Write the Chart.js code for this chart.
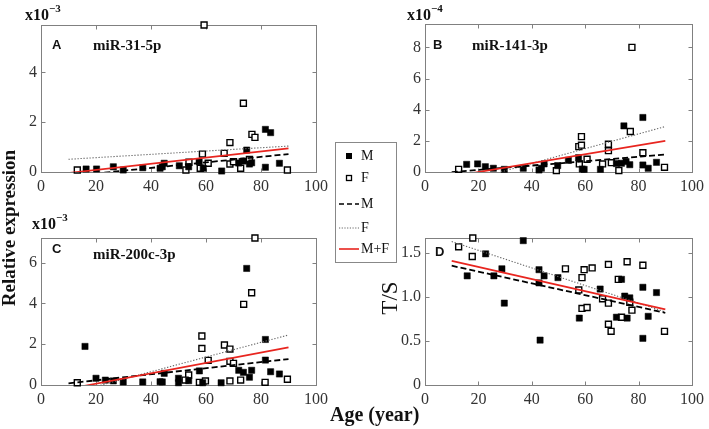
<!DOCTYPE html>
<html>
<head>
<meta charset="utf-8">
<script src="https://cdn.jsdelivr.net/npm/chart.js@4/dist/chart.umd.min.js"></script>
<style>
    html, body {
        margin: 0;
        padding: 0;
        background: #ffffff;
    }

    #wrap {
        position: relative;
        width: 709px;
        height: 429px;
        overflow: hidden;
        font-family: 'Liberation Serif', 'Times New Roman', serif;
        color: #111;
    }

    #wrap canvas {
        position: absolute;
        left: 0;
        top: 0;
    }

    .txt {
        position: absolute;
        white-space: nowrap;
        line-height: 1;
    }

    .exp {
        font-weight: bold;
        font-size: 16px;
    }

    .exp sup {
        font-size: 11px;
        position: relative;
        top: -2px;
    }

    .letter {
        font-family: 'Liberation Sans', Arial, sans-serif;
        font-weight: bold;
        font-size: 13px;
    }

    .title {
        font-weight: bold;
        font-size: 15px;
    }

    #legend {
        position: absolute;
        left: 335px;
        top: 142px;
        width: 60px;
        height: 119px;
        border: 1px solid #888;
        background: #fff;
    }

    #legend .lab {
        position: absolute;
        left: 25px;
        font-size: 14px;
        line-height: 14px;
    }
</style>
</head>
<body>

<div id="wrap">

    <canvas id="chartA" width="709" height="429"></canvas>
    <canvas id="chartB" width="709" height="429"></canvas>
    <canvas id="chartC" width="709" height="429"></canvas>
    <canvas id="chartD" width="709" height="429"></canvas>

    <!-- exponent labels -->
    <div class="txt exp" style="left:25px; top:5px;">x10<sup>−3</sup></div>
    <div class="txt exp" style="left:407px; top:5px;">x10<sup>−4</sup></div>
    <div class="txt exp" style="left:32px; top:214px;">x10<sup>−3</sup></div>

    <!-- panel letters and titles -->
    <div class="txt letter" style="left:52px; top:38px;">A</div>
    <div class="txt title" style="left:93px; top:38px;">miR-31-5p</div>

    <div class="txt letter" style="left:433px; top:38px;">B</div>
    <div class="txt title" style="left:472px; top:38px;">miR-141-3p</div>

    <div class="txt letter" style="left:52px; top:242px;">C</div>
    <div class="txt title" style="left:93px; top:247px;">miR-200c-3p</div>

    <div class="txt letter" style="left:435px; top:245px;">D</div>

    <!-- axis titles -->
    <div class="txt" style="left:-111px; top:218px; width:240px; text-align:center;
        font-weight:bold; font-size:19px; line-height:20px; transform:rotate(-90deg);">
        Relative expression</div>

    <div class="txt" style="left:360px; top:286px; width:60px; text-align:center;
        font-size:23px; line-height:24px; transform:rotate(-90deg);">T/S</div>

    <div class="txt" style="left:330px; top:404px; font-weight:bold; font-size:20px;
        line-height:20px;">Age (year)</div>

    <!-- shared legend -->
    <div id="legend">
        <svg width="60" height="119" style="position:absolute; left:0; top:0;">
            <rect x="10" y="10" width="6" height="6" fill="#000"/>
            <rect x="10.5" y="32.5" width="5" height="5" fill="#fff" stroke="#000" stroke-width="1.3"/>
            <line x1="3" y1="61" x2="23" y2="61" stroke="#000" stroke-width="1.6" stroke-dasharray="5,3"/>
            <line x1="3" y1="85" x2="23" y2="85" stroke="#666" stroke-width="1" stroke-dasharray="1.2,1.5"/>
            <line x1="3" y1="106" x2="23" y2="106" stroke="#e8251f" stroke-width="1.6"/>
        </svg>
        <div class="lab" style="top:6px;">M</div>
        <div class="lab" style="top:28px;">F</div>
        <div class="lab" style="top:54px;">M</div>
        <div class="lab" style="top:78px;">F</div>
        <div class="lab" style="top:99px;">M+F</div>
    </div>

</div>

<script>
// ==========================================
// DATA  (age in years, value)
// ==========================================

const xTicks = [0, 20, 40, 60, 80, 100];

// A: miR-31-5p  (x10^-3)
const mir31Male = [
    [16.4, 0.12], [20.2, 0.12], [26.3, 0.21], [29.9, 0.08], [37, 0.17],
    [43.3, 0.15], [44.1, 0.21], [44.8, 0.35], [50.3, 0.25], [53.7, 0.21],
    [57.5, 0.41], [59, 0.15], [65.7, 0.04], [71.9, 0.36], [73.6, 0.44],
    [74.8, 0.88], [75.8, 0.32], [76.6, 0.37], [81.6, 1.71], [83.5, 1.58],
    [81.6, 0.19], [86.7, 0.35]
];
const mir31Female = [
    [13.2, 0.08], [59.3, 5.9], [73.6, 2.76], [68.7, 1.18], [76.7, 1.51],
    [77.8, 1.39], [58.7, 0.72], [66.6, 0.75], [53.8, 0.39], [60.8, 0.35],
    [57.9, 0.15], [52.7, 0.08], [68.7, 0.32], [70, 0.41], [72.6, 0.15],
    [75.8, 0.5], [89.6, 0.08]
];
const mir31FitM = [[10, -0.17], [90, 0.72]];
const mir31FitF = [[10, 0.51], [90, 1.04]];
const mir31FitAll = [[10, -0.04], [90, 0.95]];
const mir31Ticks = [0, 2, 4];

// B: miR-141-3p  (x10^-4)
const mir141Male = [
    [15.6, 0.49], [19.7, 0.52], [22.6, 0.34], [25.6, 0.24], [29.7, 0.17],
    [36.8, 0.24], [42.7, 0.13], [43.6, 0.24], [44.6, 0.52], [49.7, 0.41],
    [53.7, 0.75], [57.5, 0.92], [58.9, 0.19], [59.6, 0.17], [65.7, 0.17],
    [71.7, 0.54], [73.6, 0.56], [74.5, 2.96], [75.3, 0.67], [76.7, 0.47],
    [81.6, 3.5], [81.6, 0.45], [83.6, 0.24], [86.7, 0.62]
];
const mir141Female = [
    [12.6, 0.17], [77.5, 8.0], [76.9, 2.6], [58.6, 2.27], [57.6, 1.63],
    [58.6, 1.72], [68.7, 1.78], [68.7, 1.37], [81.6, 1.24], [60.7, 0.82],
    [57.8, 0.52], [49.2, 0.09], [66.5, 0.52], [69.8, 0.6], [72.6, 0.09],
    [89.7, 0.3]
];
const mir141FitM = [[10, -0.01], [90, 1.12]];
const mir141FitF = [[10, -0.87], [90, 2.92]];
const mir141FitAll = [[10, -0.29], [90, 2.0]];
const mir141Ticks = [0, 2, 4, 6, 8];

// C: miR-200c-3p  (x10^-3)
const mir200Male = [
    [16, 1.89], [20, 0.33], [23.4, 0.24], [26.3, 0.2], [29.9, 0.15],
    [37, 0.15], [43.3, 0.16], [44.1, 0.15], [44.8, 0.57], [50, 0.33],
    [50, 0.11], [53.7, 0.21], [57.6, 0.69], [58.8, 0.11], [65.5, 0.11],
    [71.9, 0.72], [73.6, 0.62], [74.8, 5.71], [75.8, 0.38], [76.6, 0.72],
    [81.6, 2.23], [81.6, 1.22], [83.5, 0.65], [86.7, 0.54]
];
const mir200Female = [
    [13.2, 0.11], [77.8, 7.2], [76.6, 4.52], [73.7, 3.95], [58.5, 2.4],
    [58.5, 1.79], [66.7, 1.96], [68.7, 1.76], [60.8, 1.21], [68.7, 1.16],
    [70, 1.06], [53.7, 0.49], [52.4, 0.24], [57.6, 0.13], [59.8, 0.2],
    [68.7, 0.2], [72.6, 0.24], [81.5, 0.13], [89.6, 0.28]
];
const mir200FitM = [[10, 0.08], [90, 1.27]];
const mir200FitF = [[10, -0.43], [90, 2.45]];
const mir200FitAll = [[10, -0.19], [90, 1.84]];
const mir200Ticks = [0, 2, 4, 6];

// D: telomere length T/S
const tsMale = [
    [15.8, 1.24], [22.7, 1.49], [25.8, 1.24], [28.8, 1.32], [29.7, 0.93],
    [36.8, 1.64], [42.7, 1.31], [42.7, 1.16], [44.6, 1.24], [49.8, 1.22],
    [43.1, 0.51], [57.8, 0.76], [65.6, 1.09], [71.7, 0.77], [73.6, 1.2],
    [74.8, 1.01], [76.7, 0.99], [75.7, 0.76], [81.6, 1.11], [81.6, 0.53],
    [83.6, 0.78], [86.7, 1.05]
];
const tsFemale = [
    [17.9, 1.67], [12.6, 1.57], [17.7, 1.46], [52.6, 1.32], [59.6, 1.31],
    [62.6, 1.33], [68.7, 1.37], [75.7, 1.4], [81.6, 1.36], [58.8, 1.22],
    [72.4, 1.2], [57.6, 1.08], [66.5, 0.98], [68.7, 0.93], [58.8, 0.87],
    [60.7, 0.88], [73.6, 0.77], [77.5, 0.85], [76.7, 0.94], [68.7, 0.69],
    [69.7, 0.61], [89.7, 0.61]
];
const tsFitM = [[10, 1.355], [90, 0.82]];
const tsFitF = [[10, 1.63], [90, 0.83]];
const tsFitAll = [[10, 1.41], [90, 0.86]];
const tsTicks = [0, 0.5, 1, 1.5];

// ==========================================
// HELPERS
// ==========================================

const SERIF = "'Liberation Serif', 'Times New Roman', serif";
const Y_AXIS_W = 30;
const X_AXIS_H = 22;

function toPoints(arr) {
    return arr.map(p => ({ x: p[0], y: p[1] }));
}

// MATLAB style box with inward ticks on all four sides
const boxTicks = {
    id: 'boxTicks',

    beforeDatasetsDraw(chart) {
        const ctx = chart.ctx;
        const a = chart.chartArea;
        const xs = chart.scales.x;
        const ys = chart.scales.y;

        ctx.save();
        ctx.strokeStyle = '#808080';
        ctx.lineWidth = 1;

        const l = Math.round(a.left) + 0.5;
        const r = Math.round(a.right) + 0.5;
        const t = Math.round(a.top) + 0.5;
        const b = Math.round(a.bottom) + 0.5;

        ctx.strokeRect(l, t, r - l, b - t);

        ctx.beginPath();

        xs.ticks.forEach(tk => {
            const px = Math.round(xs.getPixelForValue(tk.value)) + 0.5;
            ctx.moveTo(px, b);
            ctx.lineTo(px, b - 4);
            ctx.moveTo(px, t);
            ctx.lineTo(px, t + 4);
        });

        ys.ticks.forEach(tk => {
            const py = Math.round(ys.getPixelForValue(tk.value)) + 0.5;
            ctx.moveTo(l, py);
            ctx.lineTo(l + 4, py);
            ctx.moveTo(r, py);
            ctx.lineTo(r - 4, py);
        });

        ctx.stroke();
        ctx.restore();
    }
};

// ==========================================
// PANEL FACTORY
// ==========================================

function makePanel(canvasId, area, yMax, yTicks, male, female, fitM, fitF, fitAll) {

    const canvas = document.getElementById(canvasId);

    return new Chart(canvas, {

        type: 'scatter',

        data: {
            datasets: [
                {
                    data: toPoints(fitAll),
                    showLine: true,
                    pointRadius: 0,
                    borderColor: '#e8251f',
                    borderWidth: 1.7
                },
                {
                    data: toPoints(fitM),
                    showLine: true,
                    pointRadius: 0,
                    borderColor: '#000000',
                    borderWidth: 1.8,
                    borderDash: [6, 3]
                },
                {
                    data: toPoints(fitF),
                    showLine: true,
                    pointRadius: 0,
                    borderColor: '#666666',
                    borderWidth: 1.1,
                    borderDash: [1.3, 1.7]
                },
                {
                    data: toPoints(male),
                    pointStyle: 'rect',
                    pointRadius: 4.4,
                    backgroundColor: '#000000',
                    borderColor: '#000000',
                    borderWidth: 0.5,
                    clip: false
                },
                {
                    data: toPoints(female),
                    pointStyle: 'rect',
                    pointRadius: 4.2,
                    backgroundColor: '#ffffff',
                    borderColor: '#000000',
                    borderWidth: 1.4,
                    clip: false
                }
            ]
        },

        options: {

            responsive: false,
            animation: false,
            events: [],

            layout: {
                padding: {
                    left: area.left - Y_AXIS_W,
                    top: area.top,
                    right: 709 - area.right,
                    bottom: 429 - area.bottom - X_AXIS_H
                }
            },

            plugins: {
                legend: { display: false },
                tooltip: { enabled: false }
            },

            scales: {

                x: {
                    type: 'linear',
                    min: 0,
                    max: 100,
                    afterFit: s => { s.height = X_AXIS_H; },
                    afterBuildTicks: s => {
                        s.ticks = xTicks.map(v => ({ value: v }));
                    },
                    grid: { display: false, drawTicks: false },
                    border: { display: false },
                    ticks: {
                        padding: 5,
                        maxRotation: 0,
                        color: '#333333',
                        font: { family: SERIF, size: 16 }
                    }
                },

                y: {
                    type: 'linear',
                    min: 0,
                    max: yMax,
                    afterFit: s => { s.width = Y_AXIS_W; },
                    afterBuildTicks: s => {
                        s.ticks = yTicks.map(v => ({ value: v }));
                    },
                    grid: { display: false, drawTicks: false },
                    border: { display: false },
                    ticks: {
                        padding: 4,
                        color: '#333333',
                        font: { family: SERIF, size: 16 }
                    }
                }
            }
        },

        plugins: [boxTicks]
    });
}

// ==========================================
// DRAW THE FOUR PANELS
// ==========================================

makePanel('chartA', { left: 41, top: 25, right: 316, bottom: 172 },
    5.9, mir31Ticks, mir31Male, mir31Female, mir31FitM, mir31FitF, mir31FitAll);

makePanel('chartB', { left: 425, top: 24, right: 697, bottom: 172 },
    9.5, mir141Ticks, mir141Male, mir141Female, mir141FitM, mir141FitF, mir141FitAll);

makePanel('chartC', { left: 41, top: 238, right: 316, bottom: 385 },
    7.2, mir200Ticks, mir200Male, mir200Female, mir200FitM, mir200FitF, mir200FitAll);

makePanel('chartD', { left: 425, top: 238, right: 697, bottom: 385 },
    1.67, tsTicks, tsMale, tsFemale, tsFitM, tsFitF, tsFitAll);
</script>

</body>
</html>
